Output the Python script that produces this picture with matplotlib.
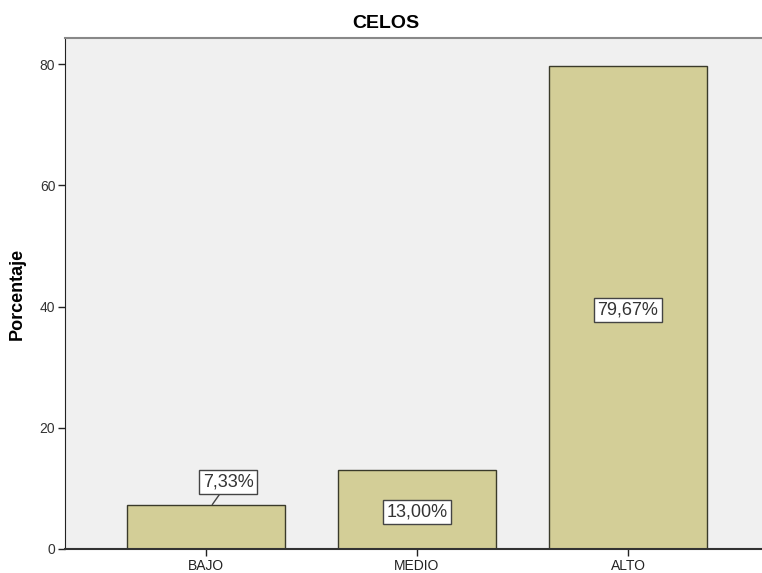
import matplotlib.pyplot as plt
import numpy as np

plt.rcParams['font.family'] = ['Liberation Sans', 'DejaVu Sans']

# Data
categories = ['BAJO', 'MEDIO', 'ALTO']
percentages = [7.33, 13.00, 79.67]
labels = ['7,33%', '13,00%', '79,67%']
y_ticks = [0, 20, 40, 60, 80]

fig = plt.figure(figsize=(7.62, 5.73), dpi=100)
ax = fig.add_axes([65 / 762, 24 / 573, 1 - 65 / 762, (549 - 38) / 573])
ax.set_facecolor('#f0f0f0')

x = np.arange(len(categories))
bars = ax.bar(x, percentages, width=0.75, color='#d3ce97', edgecolor='#3a3a2a', linewidth=1.0, zorder=2)

ax.set_xlim(-0.668, 2.635)
ax.set_ylim(0, 84.3)
ax.set_xticks(x)
ax.set_xticklabels(categories, fontsize=10, color='#222222')
ax.set_yticks(y_ticks)
ax.set_yticklabels([str(t) for t in y_ticks], fontsize=10, color='#333333')
ax.tick_params(axis='both', direction='out', length=5, width=1, color='#222222', pad=2)

ax.spines['right'].set_visible(False)
ax.spines['top'].set_color('#888888')
ax.spines['top'].set_linewidth(1.5)
ax.spines['left'].set_color('#222222')
ax.spines['bottom'].set_color('#333333')
ax.spines['bottom'].set_linewidth(1.5)

ax.set_ylabel('Porcentaje', fontsize=13, fontweight='bold', labelpad=10)

box = dict(boxstyle='square,pad=0.2', facecolor='white', edgecolor='#444444', linewidth=1)
for i, (val, lab) in enumerate(zip(percentages, labels)):
    if val < 10:
        # label above the short bar with a short leader line
        ax.annotate(lab, xy=(i + 0.03, val), xytext=(i + 0.105, val + 3.7), ha='center', va='center',
                    fontsize=13, color='#333333', bbox=box, zorder=4,
                    arrowprops=dict(arrowstyle='-', color='#444444', lw=1, shrinkA=0, shrinkB=0))
    else:
        ax.text(i, val / 2 - 0.4, lab, ha='center', va='center', fontsize=13,
                color='#333333', bbox=box, zorder=4)

fig.text(386 / 762, 1 - 24 / 573, 'CELOS', ha='center', va='center', fontsize=14, fontweight='bold')

fig.savefig('out.png', dpi=100)
